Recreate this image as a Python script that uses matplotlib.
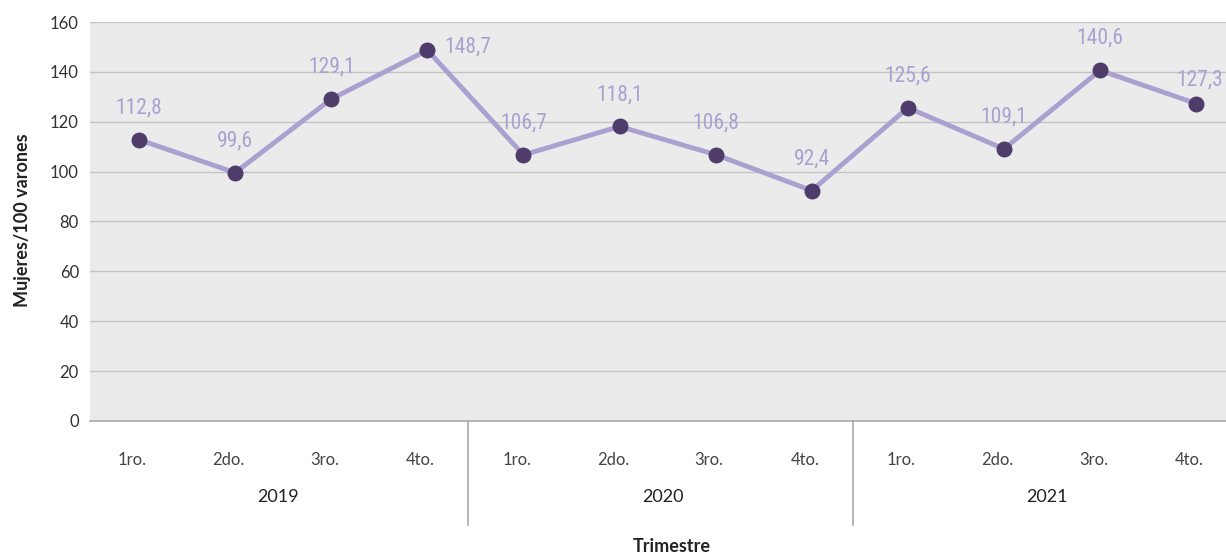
import matplotlib.pyplot as plt

quarters = ['1ro.', '2do.', '3ro.', '4to.'] * 3
years = ['2019', '2020', '2021']
values = [112.8, 99.6, 129.1, 148.7, 106.7, 118.1, 106.8, 92.4, 125.6, 109.1, 140.6, 127.3]
labels = ['112,8', '99,6', '129,1', '148,7', '106,7', '118,1', '106,8', '92,4',
          '125,6', '109,1', '140,6', '127,3']

plt.rcParams['font.family'] = ['Lato', 'DejaVu Sans']

fig = plt.figure(figsize=(12.26, 5.57), dpi=100)
ax = fig.add_axes([0.0734, 0.2442, 0.9266, 0.7163])
ax.set_facecolor('#ebebeb')

x = list(range(len(values)))
ax.plot(x, values, color='#aba1d1', lw=3.5, zorder=3)
ax.scatter(x, values, s=110, color='#4e3d6a', zorder=4)

# data labels (condensed font)
label_font = ['Roboto Condensed', 'Liberation Sans Narrow', 'DejaVu Sans']
for i, (v, t) in enumerate(zip(values, labels)):
    if i == 3:
        off, ha = (12, 2), 'left'
    elif i == 11:
        off, ha = (19.5, 17), 'right'
    else:
        off, ha = (0, 23), 'center'
    ax.annotate(t, (i, v), xytext=off, textcoords='offset points', ha=ha, va='center',
                fontsize=15.5, color='#aba1d1', family=label_font, stretch='condensed',
                annotation_clip=False)

ax.set_ylim(0, 160)
ax.set_xlim(-0.51, 11.31)
ax.set_yticks(range(0, 161, 20))
ax.yaxis.grid(True, color='#c4c4c4', lw=1)
ax.set_axisbelow(True)
for s in ['top', 'right', 'left']:
    ax.spines[s].set_visible(False)
ax.spines['bottom'].set_color('#aaaaaa')
ax.spines['bottom'].set_linewidth(1.2)
ax.tick_params(axis='y', length=0, labelsize=12, labelcolor='#333333', pad=8)
ax.tick_params(axis='x', length=0, labelsize=12, labelcolor='#444444', pad=22)
ax.set_xticks([i - 0.07 for i in x])
ax.set_xticklabels(quarters)

# year group labels and separators
for j, y in enumerate(years):
    ax.text(1.5 + 4 * j - 0.05, -0.19, y, transform=ax.get_xaxis_transform(),
            ha='center', va='center', fontsize=13, color='#222222')
for sep in [3.42, 7.43]:
    ax.plot([sep, sep], [0, -0.26], transform=ax.get_xaxis_transform(),
            color='#aaaaaa', lw=1.2, clip_on=False)

fig.text(0.548, 0.018, 'Trimestre', ha='center', va='center', fontsize=13,
         fontweight='bold', color='#222222')
fig.text(0.018, 0.605, 'Mujeres/100 varones', ha='center', va='center', rotation=90,
         fontsize=13, fontweight='bold', color='#222222')

fig.savefig('out.png', dpi=100)
